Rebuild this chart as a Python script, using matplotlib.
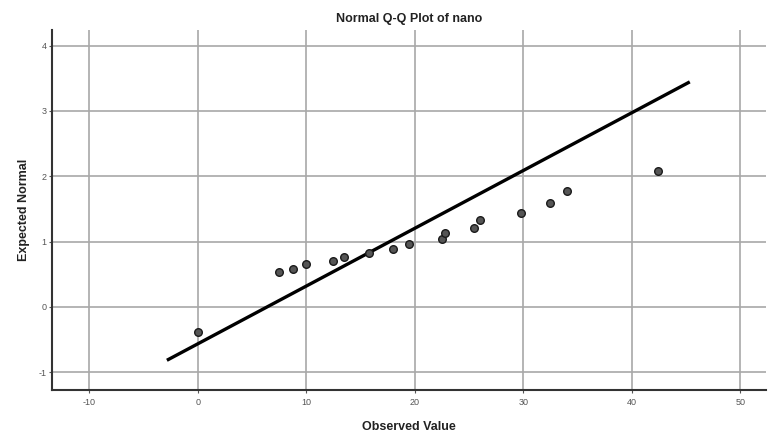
import matplotlib
matplotlib.use("Agg")
import matplotlib.pyplot as plt
import numpy as np

plt.rcParams['font.family'] = ['Liberation Sans', 'DejaVu Sans']
plt.rcParams['axes.unicode_minus'] = False

# Observed values and their expected normal scores
observed = [0.0, 7.5, 8.8, 10.0, 12.5, 13.5, 15.8, 18.0, 19.5,
            22.5, 22.8, 25.5, 26.0, 29.8, 32.5, 34.0, 42.4]
expected = [-0.38, 0.53, 0.58, 0.65, 0.70, 0.77, 0.83, 0.89, 0.96,
            1.04, 1.13, 1.21, 1.33, 1.44, 1.59, 1.78, 2.08]

# Reference line: expected = (x - mean) / sd
line_mean = 6.4
line_sd = 11.3
line_x = [-2.7, 45.2]

x_ticks = [-10, 0, 10, 20, 30, 40, 50]
y_ticks = [-1, 0, 1, 2, 3, 4]

fig = plt.figure(figsize=(7.68, 4.41), dpi=100)
ax = fig.add_axes([0.068, 0.116, 0.93, 0.816])

ax.set_xlim(-13.4, 52.4)
ax.set_ylim(-1.27, 4.24)
ax.set_xticks(x_ticks)
ax.set_yticks(y_ticks)
ax.grid(True, color='#a8a8a8', linewidth=1.2)
ax.set_axisbelow(True)

lx = np.array(line_x)
ax.plot(lx, (lx - line_mean) / line_sd, color='black', linewidth=2.4, zorder=3)
ax.scatter(observed, expected, s=30, facecolor='#555555', edgecolor='#1a1a1a',
           linewidth=1.0, zorder=4)

for side in ('top', 'right'):
    ax.spines[side].set_visible(False)
for side in ('left', 'bottom'):
    ax.spines[side].set_color('#333333')
    ax.spines[side].set_linewidth(1.5)

ax.tick_params(axis='both', labelsize=6.5, colors='#555555', length=2, width=0.8)
ax.tick_params(axis='y', pad=2)
ax.tick_params(axis='x', pad=4)
ax.set_title('Normal Q-Q Plot of nano', fontsize=9, fontweight='bold',
             color='#222222', pad=6)
ax.set_xlabel('Observed Value', fontsize=9, fontweight='bold', color='#222222',
              labelpad=10)
ax.set_ylabel('Expected Normal', fontsize=9, fontweight='bold', color='#222222',
              labelpad=6)

fig.savefig('out.png', dpi=100)
